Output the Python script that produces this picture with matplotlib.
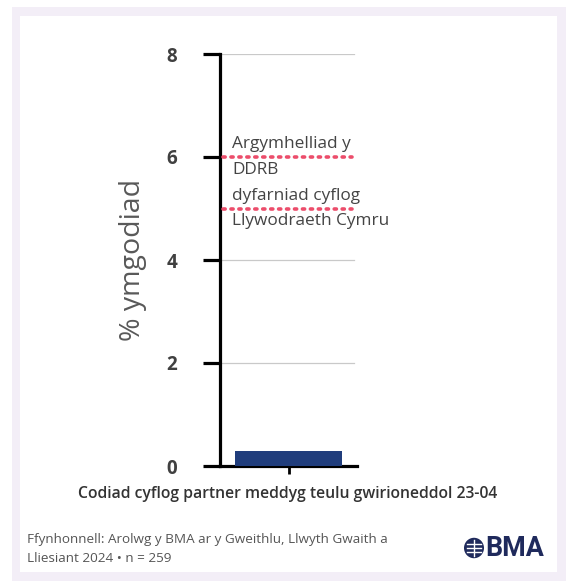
import matplotlib.pyplot as plt
from matplotlib.patches import Rectangle, Circle

plt.rcParams['font.family'] = ['Open Sans', 'DejaVu Sans']

# data
categories = ["Codiad cyflog partner meddyg teulu gwirioneddol 23-04"]
values = [0.3]
ref_values = [6, 5]
ref_labels = ["Argymhelliad y\nDDRB", "dyfarniad cyflog\nLlywodraeth Cymru"]
yticks = [0, 2, 4, 6, 8]
source = "Ffynhonnell: Arolwg y BMA ar y Gweithlu, Llwyth Gwaith a\nLliesiant 2024 \u2022 n = 259"

W, H = 568, 581
fig = plt.figure(figsize=(W / 100, H / 100), dpi=100)
fig.patch.set_facecolor('white')

# lavender frame around white panel
fig.patches.append(Rectangle((12 / W, 1 - 581 / H), 554 / W, 574 / H,
                             transform=fig.transFigure, facecolor='#f3eef7',
                             edgecolor='none', zorder=-3))
fig.patches.append(Rectangle((20 / W, 1 - 572 / H), 537 / W, 556 / H,
                             transform=fig.transFigure, facecolor='white',
                             edgecolor='none', zorder=-2))

ax = fig.add_axes([220 / W, 1 - 466 / H, 137 / W, 412 / H])
ax.set_facecolor('none')

x = list(range(len(categories)))
ax.bar(x, values, width=0.78, color='#203d7c', zorder=3)
ax.set_xlim(-0.5, 0.5)
ax.set_ylim(0, 8)

for v in [2, 4, 8]:
    ax.axhline(v, xmax=0.98, color='#c9c9c9', lw=0.9, zorder=1)

for v, lab in zip(ref_values, ref_labels):
    ax.axhline(v, xmin=0.02, xmax=0.96, color='#ec4d6b', lw=2.6,
               linestyle=(0, (0.6, 1.6)), dash_capstyle='round', zorder=4)
    ax.text(0.088, v, lab, transform=ax.get_yaxis_transform(), va='center',
            ha='left', fontsize=12.4, color='#444444', linespacing=1.75,
            clip_on=False, zorder=5)

for s in ['top', 'right']:
    ax.spines[s].set_visible(False)
ax.spines['left'].set_linewidth(2.3)
ax.spines['bottom'].set_linewidth(2.3)

ax.set_yticks(yticks)
ax.set_yticklabels([str(t) for t in yticks], fontsize=13.5,
                   fontweight='bold', color='#404040')
ax.tick_params(axis='y', length=12, width=2.3, pad=19)
ax.set_xticks(x)
ax.set_xticklabels([''])
ax.tick_params(axis='x', length=6, width=2)

ax.set_ylabel('% ymgodiad', fontsize=20.5, color='#595959', labelpad=14)
fig.text(288 / W, 1 - 494 / H, categories[0], ha='center', va='center',
         fontsize=11.3, fontweight='semibold', color='#333333')

fig.text(27 / W, 1 - 549 / H, source, ha='left', va='center', fontsize=9.7,
         color='#555555', linespacing=1.7)

# BMA logo
navy = '#1f2a5c'
fig.patches.append(Circle((474 / W, 1 - 548 / H), 10 / W, transform=fig.transFigure,
                          facecolor=navy, edgecolor='none'))
for dy in [-4, 0, 4]:
    fig.add_artist(plt.Line2D([467 / W, 481 / W], [1 - (548 + dy) / H] * 2,
                              color='white', lw=1.0))
fig.add_artist(plt.Line2D([474 / W, 474 / W], [1 - 540 / H, 1 - 556 / H],
                          color='white', lw=1.0))
fig.text(485 / W, 1 - 548 / H, 'BMA', ha='left', va='center', fontsize=19.4,
         fontweight='bold', color=navy, family=['Roboto', 'DejaVu Sans'])

fig.savefig('out.png', dpi=100)
